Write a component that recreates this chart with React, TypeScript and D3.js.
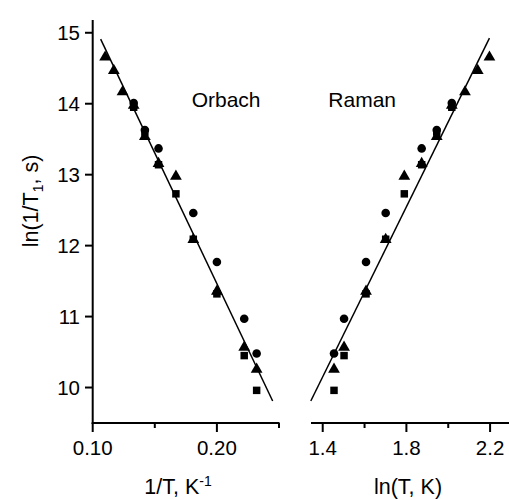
import React from 'react';
import * as d3 from 'd3';

// values (same samples plotted vs 1/T and vs ln T)
const invT = [0.110, 0.117, 0.124, 0.133, 0.142, 0.153, 0.167, 0.181, 0.200, 0.222, 0.232];
const lnT = [2.197, 2.141, 2.080, 2.017, 1.945, 1.873, 1.790, 1.701, 1.607, 1.502, 1.454];
const triangles = [14.67, 14.48, 14.18, 13.99, 13.55, 13.17, 12.99, 12.10, 11.37, 10.58, 10.27];
const circles = [null, null, null, 14.01, 13.63, 13.37, null, 12.46, 11.77, 10.97, 10.48];
const squares = [null, null, null, 13.95, 13.60, 13.14, 12.73, 12.09, 11.32, 10.45, 9.96];

const orbachFit = [[0.1064, 14.91], [0.2449, 9.81]];
const ramanFit = [[1.343, 9.81], [2.197, 14.925]];

const yTicks = [10, 11, 12, 13, 14, 15];
const leftTicks = [0.10, 0.15, 0.20, 0.25];
const leftLabels = ['0.10', '', '0.20', ''];
const rightTicks = [1.4, 1.6, 1.8, 2.0, 2.2];
const rightLabels = ['1.4', '', '1.8', '', '2.2'];

const W = 509;
const H = 500;
const font = 'Liberation Sans, Arial, sans-serif';

const y = d3.scaleLinear().domain([9.5, 15.18]).range([423, 20]);
const xL = d3.scaleLinear().domain([0.10, 0.25]).range([92.7, 279]);
const xR = d3.scaleLinear().domain([1.344, 2.3]).range([311, 511]);

type Scale = d3.ScaleLinear<number, number>;

function Markers({ xs, x }: { xs: number[]; x: Scale }) {
  const tri = d3.symbol().type(d3.symbolTriangle).size(60)();
  const sq = d3.symbol().type(d3.symbolSquare).size(56)();
  return (
    <g fill="#000">
      {xs.map((v, i) => circles[i] == null ? null : (
        <circle key={'c' + i} cx={x(v)} cy={y(circles[i] as number)} r={4.3} />
      ))}
      {xs.map((v, i) => squares[i] == null ? null : (
        <path key={'s' + i} d={sq as string} transform={`translate(${x(v)},${y(squares[i] as number)})`} />
      ))}
      {xs.map((v, i) => (
        <path key={'t' + i} d={tri as string} transform={`translate(${x(v)},${y(triangles[i]) + 1})`} />
      ))}
    </g>
  );
}

export default function App() {
  const line = (s: Scale) => d3.line<number[]>().x(d => s(d[0])).y(d => y(d[1]));
  return (
    <svg width={W} height={H} style={{ position: 'absolute', left: 0, top: 0, background: '#fff' }}>
      <rect width={W} height={H} fill="#fff" />
      {/* y axis */}
      <line x1={92.7} x2={92.7} y1={y.range()[1]} y2={424} stroke="#000" strokeWidth={2} />
      {yTicks.map(t => (
        <g key={t}>
          <line x1={85} x2={92.7} y1={y(t)} y2={y(t)} stroke="#000" strokeWidth={2} />
          <text x={80} y={y(t)} dy="0.36em" textAnchor="end" fontFamily={font} fontSize={20.5}>{t}</text>
        </g>
      ))}
      {/* left x axis */}
      <line x1={91.7} x2={279.5} y1={423} y2={423} stroke="#000" strokeWidth={2} />
      {leftTicks.map((t, i) => (
        <g key={t}>
          <line x1={xL(t)} x2={xL(t)} y1={423} y2={leftLabels[i] ? 432 : 428} stroke="#000" strokeWidth={2} />
          {leftLabels[i] && (
            <text x={xL(t)} y={455} textAnchor="middle" fontFamily={font} fontSize={20.5}>{leftLabels[i]}</text>
          )}
        </g>
      ))}
      {/* right x axis */}
      <line x1={311} x2={W} y1={423} y2={423} stroke="#000" strokeWidth={2} />
      {rightTicks.map((t, i) => (
        <g key={t}>
          <line x1={xR(t)} x2={xR(t)} y1={423} y2={rightLabels[i] ? 432 : 428} stroke="#000" strokeWidth={2} />
          {rightLabels[i] && (
            <text x={xR(t)} y={455} textAnchor="middle" fontFamily={font} fontSize={20.5}>{rightLabels[i]}</text>
          )}
        </g>
      ))}
      {/* axis titles */}
      <text x={178} y={494} textAnchor="middle" fontFamily={font} fontSize={21.5}>
        1/T, K<tspan dy={-8} fontSize={14}>-1</tspan>
      </text>
      <text x={408} y={494} textAnchor="middle" fontFamily={font} fontSize={21.5}>ln(T, K)</text>
      <text transform="translate(38,201) rotate(-90)" textAnchor="middle" fontFamily={font} fontSize={21.5}>
        ln(1/T<tspan dy={5} fontSize={14}>1</tspan><tspan dy={-5}>, s)</tspan>
      </text>
      <text x={191.7} y={107} fontFamily={font} fontSize={21}>Orbach</text>
      <text x={328.3} y={107} fontFamily={font} fontSize={21}>Raman</text>
      {/* fits */}
      <path d={line(xL)(orbachFit) as string} fill="none" stroke="#000" strokeWidth={1.5} />
      <path d={line(xR)(ramanFit) as string} fill="none" stroke="#000" strokeWidth={1.5} />
      <Markers xs={invT} x={xL} />
      <Markers xs={lnT} x={xR} />
    </svg>
  );
}
